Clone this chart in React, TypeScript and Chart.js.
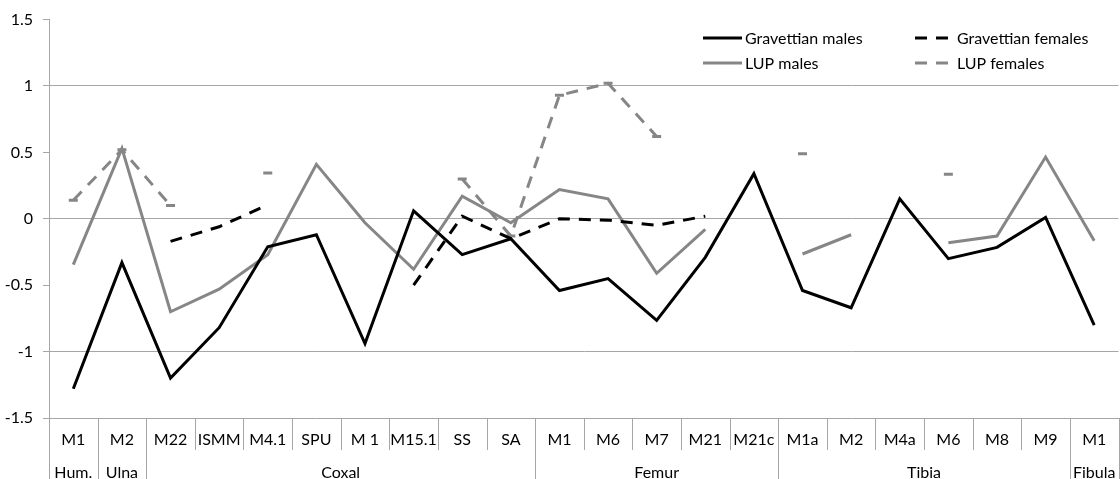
import React, { useEffect, useRef } from "react";
import { Chart, registerables } from "chart.js";

Chart.register(...registerables);

const categories = ["M1", "M2", "M22", "ISMM", "M4.1", "SPU", "M 1", "M15.1", "SS", "SA", "M1", "M6", "M7", "M21", "M21c", "M1a", "M2", "M4a", "M6", "M8", "M9", "M1"];
const groupLabels = ["Hum.", "Ulna", "Coxal", "Femur", "Tibia", "Fibula"];
const groupSpans = [1, 1, 8, 5, 6, 1];

const gravettianMales = [-1.28, -0.33, -1.2, -0.82, -0.21, -0.12, -0.94, 0.06, -0.27, -0.15, -0.54, -0.45, -0.765, -0.29, 0.34, -0.54, -0.67, 0.15, -0.3, -0.215, 0.01, -0.8];
const gravettianFemales = [null, null, -0.17, -0.06, 0.105, null, null, -0.5, 0.02, -0.15, 0.0, -0.01, -0.05, 0.02, null, null, null, null, null, null, null, null];
const lupMales = [-0.345, 0.53, -0.7, -0.53, -0.27, 0.41, -0.03, -0.38, 0.17, -0.03, 0.22, 0.15, -0.41, -0.08, null, -0.265, -0.12, null, -0.18, -0.13, 0.465, -0.165];
const lupFemales = [0.14, 0.52, 0.1, null, 0.345, null, null, null, 0.3, -0.13, 0.93, 1.02, 0.62, null, null, 0.49, null, null, 0.335, null, null, null];

const seriesNames = ["Gravettian males", "Gravettian females", "LUP males", "LUP females"];

const BLACK = "#000000";
const GRAY = "#868686";
const GRID = "#a6a6a6";
const FONT_FAMILY = "Lato, 'Open Sans', sans-serif";
const FONT_SIZE = 16;
const DASH = [12, 9];

const multiLevelAxis = {
  id: "multiLevelAxis",
  afterDraw(chart: any) {
    const { ctx, chartArea } = chart;
    const x = chart.scales.x;
    const n = categories.length;
    const w = (x.right - x.left) / n;
    const starts = new Set<number>();
    let acc = 0;
    groupSpans.forEach((s) => {
      starts.add(acc);
      acc += s;
    });
    starts.add(acc);
    ctx.save();
    ctx.strokeStyle = GRID;
    ctx.lineWidth = 1;
    for (let i = 0; i <= n; i++) {
      const px = Math.round(x.getPixelForValue(i) - w / 2) + 0.5;
      const long = starts.has(i);
      ctx.beginPath();
      ctx.moveTo(px, chartArea.bottom);
      ctx.lineTo(px, long ? chart.height : chartArea.bottom + 32);
      ctx.stroke();
    }
    ctx.fillStyle = BLACK;
    ctx.font = `${FONT_SIZE}px ${FONT_FAMILY}`;
    ctx.textAlign = "center";
    ctx.textBaseline = "middle";
    let s0 = 0;
    groupLabels.forEach((lab, gi) => {
      const s1 = s0 + groupSpans[gi];
      const cx = (x.getPixelForValue(s0) + x.getPixelForValue(s1 - 1)) / 2;
      ctx.fillText(lab, cx, chartArea.bottom + 55);
      s0 = s1;
    });

    // legend
    const items = [
      { name: seriesNames[0], color: BLACK, dash: [] as number[], x: 703, y: 38 },
      { name: seriesNames[1], color: BLACK, dash: DASH, x: 915, y: 38 },
      { name: seriesNames[2], color: GRAY, dash: [] as number[], x: 703, y: 63 },
      { name: seriesNames[3], color: GRAY, dash: DASH, x: 915, y: 63 },
    ];
    ctx.textAlign = "left";
    items.forEach((it) => {
      ctx.save();
      ctx.strokeStyle = it.color;
      ctx.lineWidth = 3;
      ctx.setLineDash(it.dash);
      ctx.beginPath();
      ctx.moveTo(it.x, it.y);
      ctx.lineTo(it.x + 39, it.y);
      ctx.stroke();
      ctx.restore();
      ctx.fillStyle = BLACK;
      ctx.fillText(it.name, it.x + 42, it.y + 1);
    });
    ctx.restore();
  },
};

export default function App() {
  const canvasRef = useRef<HTMLCanvasElement | null>(null);

  useEffect(() => {
    document.body.style.margin = "0";
    const canvas = canvasRef.current;
    if (!canvas) return;
    const font = { family: FONT_FAMILY, size: FONT_SIZE };
    const chart = new Chart(canvas, {
      type: "line",
      data: {
        labels: categories,
        datasets: [
          {
            label: seriesNames[0],
            data: gravettianMales,
            borderColor: BLACK,
            backgroundColor: BLACK,
            borderWidth: 3,
            pointRadius: 0,
            borderJoinStyle: "miter",
            spanGaps: false,
          },
          {
            label: seriesNames[1],
            data: gravettianFemales,
            borderColor: BLACK,
            backgroundColor: BLACK,
            borderWidth: 3,
            borderDash: DASH,
            pointRadius: 0,
            borderJoinStyle: "miter",
            spanGaps: false,
          },
          {
            label: seriesNames[2],
            data: lupMales,
            borderColor: GRAY,
            backgroundColor: GRAY,
            borderWidth: 3,
            pointRadius: 0,
            borderJoinStyle: "miter",
            spanGaps: false,
          },
          {
            label: seriesNames[3],
            data: lupFemales,
            borderColor: GRAY,
            backgroundColor: GRAY,
            borderWidth: 3,
            borderDash: DASH,
            pointStyle: "line",
            pointRadius: 4.5,
            pointBorderWidth: 3,
            pointBorderColor: GRAY,
            borderJoinStyle: "miter",
            spanGaps: false,
          },
        ],
      },
      options: {
        responsive: false,
        animation: false,
        layout: { padding: { top: 18, right: 0, left: 0, bottom: 0 } },
        plugins: { legend: { display: false }, tooltip: { enabled: false } },
        scales: {
          x: {
            type: "category",
            offset: true,
            grid: { display: false, drawTicks: false, tickLength: 0 },
            border: { color: GRID, width: 1 },
            ticks: { color: BLACK, font, padding: 12, maxRotation: 0, autoSkip: false },
            afterFit: (s: any) => {
              s.height = 61;
            },
          },
          y: {
            min: -1.5,
            max: 1.5,
            ticks: {
              stepSize: 0.5,
              padding: 10,
              color: BLACK,
              font,
              callback: (v: any) => String(Math.round(Number(v) * 10) / 10),
            },
            grid: {
              color: (c: any) => (c.tick && Math.abs(c.tick.value - Math.round(c.tick.value)) < 1e-6 && c.tick.value < 1.4 ? GRID : "rgba(0,0,0,0)"),
              tickColor: GRID,
              tickLength: 6,
              drawTicks: true,
            },
            border: { color: GRID, width: 1 },
            afterFit: (s: any) => {
              s.width = 49;
            },
          },
        },
      },
      plugins: [multiLevelAxis],
    });
    return () => chart.destroy();
  }, []);

  return (
    <div style={{ width: 1120, height: 479, overflow: "hidden", position: "relative" }}>
      <canvas ref={canvasRef} width={1126} height={479} style={{ display: "block" }} />
    </div>
  );
}
